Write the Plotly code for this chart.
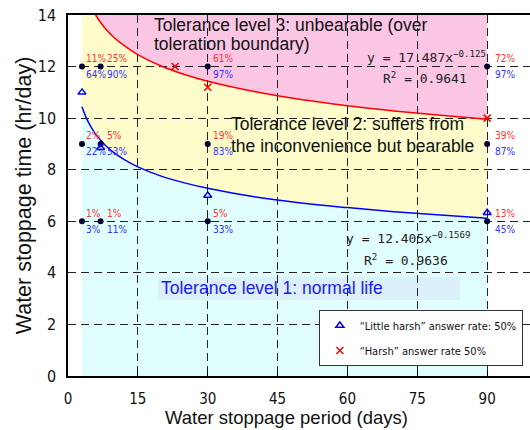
import plotly.graph_objects as go

# ---------------- data ----------------
# survey points (period in days, stoppage hr/day)
pt_days = [3, 7, 30, 90, 3, 7, 30, 90, 3, 7, 30, 90]
pt_hours = [12, 12, 12, 12, 9, 9, 9, 9, 6, 6, 6, 6]
harsh_pct = ["11%", "25%", "61%", "72%", "2%", "5%", "19%", "39%", "1%", "1%", "5%", "13%"]
little_pct = ["64%", "90%", "97%", "97%", "22%", "53%", "83%", "87%", "3%", "11%", "33%", "45%"]

# "Little harsh" 50% points
tri_days = [3, 7, 30, 90]
tri_hours = [11.0, 8.85, 7.0, 6.33]
# "Harsh" 50% points
x_days = [23, 30, 90]
x_hours = [12.0, 11.2, 10.0]

# trend curves
blue_x = [3, 4, 5, 6, 7, 8, 10, 12, 15, 20, 25, 30, 40, 50, 60, 70, 80, 90]
blue_y = [10.44, 9.98, 9.64, 9.36, 9.14, 8.95, 8.64, 8.40, 8.11, 7.75, 7.49, 7.28, 6.95, 6.71, 6.53, 6.37, 6.24, 6.12]
red_x = [5.93, 7, 8, 10, 12, 15, 20, 25, 30, 40, 50, 60, 70, 80, 90]
red_y = [14.0, 13.71, 13.48, 13.11, 12.82, 12.46, 12.02, 11.69, 11.43, 11.03, 10.72, 10.48, 10.28, 10.11, 9.96]

y_top = 14
x_ticks = [0, 15, 30, 45, 60, 75, 90]
y_ticks = [0, 2, 4, 6, 8, 10, 12, 14]

# label pixel offsets by period column (style only)
label_dx = {3: 2, 7: 4, 30: 3, 90: 6}

FONT = "Liberation Sans, Arial, sans-serif"
NARROW = "DejaVu Sans Condensed, Liberation Sans Narrow, Arial Narrow, Liberation Sans, Arial, sans-serif"
MONO = "DejaVu Sans Mono, Liberation Mono, monospace"


def path_from(xs, ys):
    return "M " + " L ".join(f"{a},{b}" for a, b in zip(xs, ys)) + " Z"


# region polygons
cyan_x = blue_x + [blue_x[-1], blue_x[0]]
cyan_y = blue_y + [0, 0]
yel_x = blue_x + red_x[::-1] + [blue_x[0]]
yel_y = blue_y + red_y[::-1] + [y_top]
pink_x = red_x + [red_x[-1]]
pink_y = red_y + [y_top]

shapes = [
    dict(type="path", path=path_from(cyan_x, cyan_y), xref="x", yref="y",
         fillcolor="#e0fefe", line=dict(width=0), layer="below"),
    dict(type="path", path=path_from(yel_x, yel_y), xref="x", yref="y",
         fillcolor="#fdfcca", line=dict(width=0), layer="below"),
    dict(type="path", path=path_from(pink_x, pink_y), xref="x", yref="y",
         fillcolor="#fbc6e4", line=dict(width=0), layer="below"),
    dict(type="rect", xref="x", yref="y", x0=19.3, x1=84.2, y0=2.95, y1=3.84,
         fillcolor="#dcf0fb", line=dict(width=0), layer="below"),
]

fig = go.Figure()

fig.add_trace(go.Scatter(x=blue_x, y=blue_y, mode="lines", line=dict(color="#0000ff", width=1.5, shape="spline"),
                         showlegend=False, hoverinfo="skip"))
fig.add_trace(go.Scatter(x=red_x, y=red_y, mode="lines", line=dict(color="#ff0000", width=1.5, shape="spline"),
                         showlegend=False, hoverinfo="skip"))

fig.add_trace(go.Scatter(x=pt_days, y=pt_hours, mode="markers",
                         marker=dict(color="#000033", size=6), showlegend=False))

fig.add_trace(go.Scatter(x=tri_days, y=tri_hours, mode="markers", name="\u201cLittle harsh\u201d answer rate: 50%",
                         marker=dict(symbol="triangle-up-open", size=7, color="#0000ff", line=dict(width=1.5)),
                         legendgroup="a"))
fig.add_trace(go.Scatter(x=x_days, y=x_hours, mode="markers", name="\u201cHarsh\u201d answer rate 50%",
                         marker=dict(symbol="x-thin-open", size=7, color="#ff0000", line=dict(width=1.5, color="#ff0000")),
                         legendgroup="b"))

annotations = [
    dict(x=18.0, y=13.63, text="Tolerance level 3: unbearable (over", font=dict(size=17.5, color="#111")),
    dict(x=18.0, y=12.88, text="toleration boundary)", font=dict(size=17.5, color="#111")),
    dict(x=34.6, y=9.77, text="Tolerance level 2: suffers from", font=dict(size=17.5, color="#111")),
    dict(x=34.6, y=8.92, text="the inconvenience but bearable", font=dict(size=17.5, color="#111")),
    dict(x=19.6, y=3.41, text="Tolerance level 1: normal life", font=dict(size=17.5, color="#1a1aff")),
    dict(x=63.8, y=12.37, text="y = 17.487x<sup>\u22120.125</sup>", font=dict(family=MONO, size=13, color="#222")),
    dict(x=67.3, y=11.56, text="R<sup>2</sup> = 0.9641", font=dict(family=MONO, size=13, color="#222")),
    dict(x=59.2, y=5.35, text="y = 12.405x<sup>\u22120.1569</sup>", font=dict(family=MONO, size=13, color="#222")),
    dict(x=63.1, y=4.50, text="R<sup>2</sup> = 0.9636", font=dict(family=MONO, size=13, color="#222")),
]
for a in annotations:
    a.update(xref="x", yref="y", xanchor="left", yanchor="middle", showarrow=False)
    a["font"].setdefault("family", FONT)

# x-axis title
annotations.append(dict(x=0.474, y=-0.1163, xref="paper", yref="paper", xanchor="center", yanchor="middle",
                        showarrow=False, text="Water stoppage period (days)",
                        font=dict(size=18.5, family=FONT, color="#111")))

# percentage labels attached to each survey point
for d, h, rt, bt in zip(pt_days, pt_hours, harsh_pct, little_pct):
    dx = label_dx.get(d, 3)
    annotations.append(dict(x=d, y=h, xref="x", yref="y", text=rt, showarrow=False, xanchor="left",
                            yanchor="middle", xshift=dx, yshift=8,
                            font=dict(family=NARROW, size=10, color="#ff3333")))
    annotations.append(dict(x=d, y=h, xref="x", yref="y", text=bt, showarrow=False, xanchor="left",
                            yanchor="middle", xshift=dx, yshift=-8,
                            font=dict(family=NARROW, size=10, color="#3333ff")))

fig.update_layout(
    width=530, height=430,
    margin=dict(l=68, r=0, t=15, b=54),
    paper_bgcolor="white", plot_bgcolor="white",
    font=dict(family=FONT, color="#111"),
    shapes=shapes, annotations=annotations,
    legend=dict(x=0.543, y=0.183, xanchor="left", yanchor="top", bgcolor="white",
                bordercolor="#333", borderwidth=1, font=dict(size=11, family=NARROW),
                tracegroupgap=6, traceorder="grouped"),
)

fig.update_xaxes(range=[0, 99.2], tickvals=x_ticks, showgrid=True, gridcolor="#222", gridwidth=1,
                 griddash="8px,5px", zeroline=False, showline=True, linecolor="#000", linewidth=1.5,
                 mirror=True, ticks="inside", ticklen=5, tickcolor="#000", ticklabelstandoff=8,
                 automargin=False,
                 tickfont=dict(family=NARROW, size=15, color="#111"))
fig.update_yaxes(range=[0, y_top], tickvals=y_ticks, showgrid=True, gridcolor="#222", gridwidth=1,
                 griddash="8px,5px", zeroline=False, showline=True, linecolor="#000", linewidth=1.5,
                 ticks="", tickfont=dict(family=NARROW, size=16, color="#111"), ticklabelstandoff=7,
                 automargin=False,
                 title=dict(text="Water stoppage time (hr/day)", font=dict(size=21.5, family=FONT, color="#111"), standoff=0))

fig.write_html("out.html", config={"displayModeBar": False},
               post_script="document.body.style.margin='0';document.body.style.overflow='hidden';")
